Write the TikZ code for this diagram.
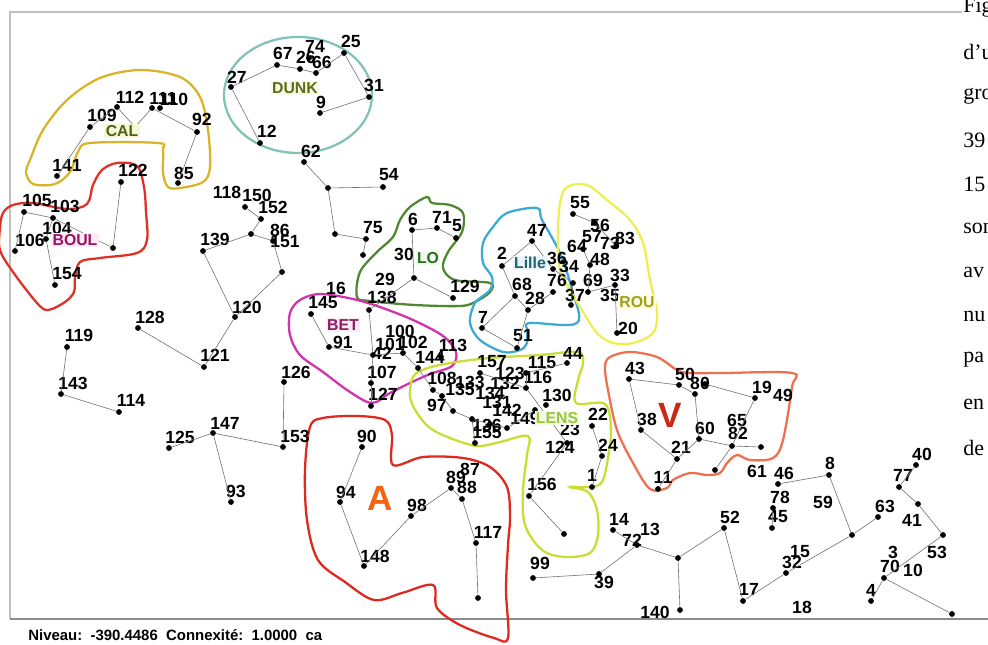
\documentclass[tikz,border=0pt]{standalone}
\usepackage{fontspec}
\setmainfont{Liberation Serif}
\setsansfont{Liberation Sans}
\usetikzlibrary{positioning}

\definecolor{calcol}{RGB}{218,180,40}
\definecolor{dunkcol}{RGB}{130,195,182}
\definecolor{boulcol}{RGB}{222,50,40}
\definecolor{locol}{RGB}{80,136,50}
\definecolor{lillecol}{RGB}{60,170,210}
\definecolor{betcol}{RGB}{210,50,170}
\definecolor{roucol}{RGB}{238,238,80}
\definecolor{lenscol}{RGB}{200,222,50}
\definecolor{acol}{RGB}{222,42,30}
\definecolor{vcol}{RGB}{238,112,80}

% a numbered site: dot and its number
\newcommand{\site}[5]{\node[spot] (s#1) at (#2,#3) {};\node[num] (n#1) at (#4,#5) {#1};}
% a number with no dot drawn
\newcommand{\lbl}[3]{\node[num] (n#1) at (#2,#3) {#1};}
% a dot with no number
\newcommand{\knot}[3]{\node[spot] (#1) at (#2,#3) {};}

\begin{document}
\begin{tikzpicture}[x=0.02cm, y=-0.02cm,
  spot/.style={circle, fill=black, inner sep=0pt, minimum size=3.3pt},
  num/.style={font=\sffamily\bfseries\fontsize{10}{10}\selectfont, inner sep=0pt},
  link/.style={draw=black!55, line width=0.35pt},
  zone/.style={line width=1.3pt, smooth cycle, tension=0.55},
  tag/.style={font=\sffamily\bfseries\fontsize{9}{9}\selectfont, inner sep=0.8pt}]

\useasboundingbox (0,0) rectangle (988,645);

% frame
\draw[black!25, line width=0.6pt] (10,619) -- (10,12) -- (962,12);
\draw[black!45, line width=0.6pt] (10,619) -- (988,619);

% zones
\draw[calcol, zone] plot coordinates {(30,160) (43,130) (67,100) (100,78) (140,70) (180,77) (200,97) (208,130) (210,167) (203,182) (180,188) (168,187) (163,173) (163,150) (158,143) (90,143) (78,152) (70,172) (55,184) (33,184) (26,172)};
\draw[dunkcol, line width=1.3pt] (298,95) ellipse [x radius=1.48cm, y radius=1.16cm];
\draw[boulcol, zone] plot coordinates {(3,213) (13,205) (33,203) (67,209) (87,204) (93,185) (102,170) (117,163) (137,166) (144,187) (146,212) (147,240) (137,253) (100,258) (80,262) (75,278) (74,292) (65,302) (48,310) (37,303) (13,272) (0,250) (0,228)};
\draw[locol, zone] plot coordinates {(357,297) (360,272) (377,252) (393,237) (400,220) (410,207) (427,197) (432,203) (450,205) (463,213) (462,232) (448,252) (443,268) (455,280) (490,283) (490,292) (475,302) (460,306) (415,305) (370,301)};
\draw[lillecol, zone] plot coordinates {(507,213) (537,208) (542,220) (560,253) (572,290) (577,323) (530,323) (527,330) (527,343) (520,350) (503,352) (480,340) (470,323) (475,303) (490,290) (492,277) (483,263) (483,243) (493,227)};
\draw[roucol, zone] plot coordinates {(567,187) (587,185) (607,200) (630,220) (643,243) (650,280) (657,313) (653,333) (633,343) (613,343) (597,333) (580,307) (570,290) (560,270) (558,237) (560,203)};
\draw[betcol, zone] plot coordinates {(290,313) (300,300) (320,294) (353,299) (380,307) (413,320) (443,336) (456,352) (452,366) (430,374) (410,383) (390,393) (372,403) (350,392) (323,372) (300,355) (290,335)};
\draw[acol, zone] plot coordinates {(310,427) (323,418) (357,416) (385,420) (392,435) (393,465) (423,457) (463,458) (490,467) (507,487) (510,517) (508,545) (506,590) (508,638) (494,638) (460,625) (437,608) (433,585) (402,593) (374,600) (345,582) (318,560) (307,520) (305,470)};
\draw[lenscol, zone] plot coordinates {(410,397) (413,377) (425,369) (450,363) (490,358) (540,355) (578,352) (583,363) (578,380) (576,403) (605,404) (611,430) (608,458) (602,482) (590,487) (570,487) (588,492) (597,510) (598,535) (590,553) (565,557) (542,550) (525,525) (523,490) (527,455) (528,436) (500,442) (477,446) (450,438) (430,428) (417,413)};
\draw[vcol, zone] plot coordinates {(605,367) (610,357) (630,352) (657,357) (677,370) (690,373) (723,373) (792,373) (792,387) (783,440) (773,458) (750,460) (737,455) (727,463) (720,473) (707,475) (690,473) (673,480) (667,488) (650,489) (633,463) (617,430) (608,390)};

% CAL
\site{112}{117}{107}{130}{97}
\site{111}{152}{108}{163}{98}
\site{110}{160}{108}{174}{99}
\knot{cal}{135}{127}
\site{109}{90}{127}{102}{115}
\site{92}{197}{132}{202}{119}
\site{141}{57}{176}{67}{165}
\site{85}{178}{183}{184}{173}
% DUNK
\site{27}{231}{87}{237}{77}
\site{67}{277}{65}{283}{53}
\site{26}{300}{69}{306}{57}
\site{74}{309}{58}{315}{46}
\site{66}{316}{73}{322}{62}
\site{25}{344}{53}{351}{41}
\site{31}{369}{97}{374}{85}
\site{9}{320}{113}{321}{102}
\site{12}{260}{143}{267}{131}
\site{62}{304}{162}{311}{151}
\knot{dj}{328}{188}
\site{54}{383}{187}{389}{175}
\knot{dk}{335}{234}
\site{75}{366}{239}{373}{228}
\knot{dl}{363}{255}
% BOUL
\site{105}{24}{212}{37}{200}
\site{103}{53}{218}{65}{206}
\site{104}{46}{239}{57}{228}
\site{106}{15}{251}{30}{240}
\knot{bj}{113}{248}
\site{154}{55}{285}{67}{274}
\site{122}{121}{182}{133}{170}
% west
\site{119}{67}{347}{79}{335}
\site{143}{61}{394}{73}{383}
\site{114}{119}{412}{131}{400}
\site{128}{138}{328}{150}{317}
\site{121}{204}{367}{215}{355}
\site{120}{235}{317}{247}{307}
\site{139}{203}{251}{215}{239}
\lbl{118}{227}{192}
\site{150}{245}{207}{257}{195}
\site{152}{261}{219}{273}{207}
\knot{tj}{251}{234}
\site{86}{273}{241}{280}{230}
\lbl{151}{285}{242}
\knot{tk}{282}{272}
\site{126}{284}{382}{296}{372}
\site{153}{283}{447}{295}{436}
\site{147}{213}{433}{225}{423}
\site{125}{169}{448}{180}{437}
\site{93}{231}{502}{236}{491}
% LO
\site{6}{412}{230}{413}{219}
\site{71}{437}{228}{442}{217}
\site{5}{456}{238}{457}{226}
\knot{lj}{414}{278}
\lbl{30}{404}{254}
\lbl{29}{385}{279}
\site{129}{453}{298}{465}{286}
\site{138}{369}{310}{382}{297}
\lbl{16}{336}{288}
% BET
\site{145}{311}{314}{323}{303}
\site{91}{329}{347}{343}{342}
\site{42}{373}{355}{382}{353}
\lbl{101}{390}{344}
\lbl{100}{400}{331}
\site{102}{403}{353}{413}{342}
\site{144}{418}{368}{430}{357}
\site{113}{441}{357}{453}{345}
\site{107}{371}{383}{382}{372}
\site{127}{371}{406}{383}{394}
% Lille
\site{47}{532}{241}{537}{230}
\site{2}{502}{266}{502}{253}
\site{68}{515}{296}{522}{284}
\site{28}{528}{310}{535}{298}
\site{76}{553}{292}{557}{280}
\site{7}{482}{328}{483}{317}
\site{51}{517}{348}{523}{336}
\site{36}{553}{269}{557}{258}
\lbl{34}{569}{266}
\site{37}{571}{305}{575}{295}
\knot{rj}{573}{283}
% ROU
\site{55}{573}{214}{580}{203}
\site{56}{595}{223}{600}{225}
\site{57}{583}{249}{592}{237}
\lbl{73}{610}{243}
\site{83}{616}{246}{625}{238}
\lbl{64}{577}{246}
\site{48}{590}{265}{600}{259}
\site{69}{588}{292}{593}{280}
\site{33}{615}{285}{620}{275}
\lbl{35}{610}{295}
\site{20}{617}{333}{628}{328}
% LENS
\site{157}{480}{373}{492}{362}
\site{115}{526}{373}{542}{363}
\site{44}{567}{363}{573}{353}
\lbl{123}{510}{373}
\site{116}{526}{388}{538}{377}
\site{130}{546}{405}{557}{395}
\site{108}{433}{390}{442}{378}
\lbl{133}{470}{382}
\lbl{132}{505}{383}
\site{135}{442}{396}{460}{389}
\lbl{134}{490}{393}
\lbl{131}{497}{402}
\site{97}{453}{411}{437}{405}
\site{142}{490}{424}{507}{410}
\site{149}{507}{428}{525}{418}
\site{136}{472}{419}{487}{425}
\site{155}{475}{443}{487}{433}
\knot{lk}{535}{410}
\site{22}{592}{426}{598}{414}
\lbl{23}{570}{429}
\site{124}{567}{443}{560}{447}
\site{24}{602}{456}{608}{445}
\site{1}{592}{487}{592}{475}
\site{156}{529}{496}{542}{484}
\knot{lm}{564}{534}
% A
\site{90}{362}{447}{367}{436}
\site{94}{340}{502}{346}{492}
\site{148}{364}{566}{375}{556}
\site{98}{411}{516}{417}{505}
\site{89}{451}{488}{456}{477}
\lbl{87}{470}{469}
\site{88}{462}{499}{467}{487}
\site{117}{476}{543}{488}{532}
\knot{ab}{478}{598}
% V
\site{43}{629}{379}{635}{368}
\site{50}{679}{385}{685}{374}
\site{80}{695}{394}{700}{383}
\knot{vj}{705}{384}
\site{19}{755}{398}{762}{387}
\lbl{49}{783}{395}
\site{38}{641}{430}{647}{419}
\site{60}{699}{439}{705}{428}
\lbl{65}{737}{420}
\site{82}{732}{446}{738}{433}
\knot{vk}{761}{447}
\site{21}{677}{459}{681}{447}
\site{11}{658}{489}{663}{477}
\knot{vl}{715}{470}
% south-east
\lbl{61}{757}{471}
\site{46}{778}{484}{784}{473}
\site{8}{829}{475}{830}{463}
\site{78}{773}{508}{780}{497}
\site{45}{772}{528}{778}{517}
\lbl{59}{823}{502}
\knot{fj}{852}{535}
\site{63}{878}{517}{885}{506}
\site{40}{916}{465}{922}{454}
\site{77}{899}{487}{903}{475}
\knot{fk}{918}{504}
\lbl{41}{912}{520}
\site{53}{943}{535}{937}{552}
\lbl{3}{893}{552}
\site{70}{884}{578}{890}{566}
\lbl{10}{913}{570}
\site{4}{871}{601}{871}{590}
\knot{fl}{952}{614}
\site{52}{724}{528}{730}{517}
\site{17}{743}{601}{749}{589}
\site{32}{786}{573}{792}{562}
\lbl{15}{800}{552}
\lbl{18}{802}{607}
\site{14}{613}{530}{619}{519}
\lbl{13}{650}{529}
\site{72}{637}{545}{632}{540}
\knot{mj}{678}{558}
\site{140}{680}{610}{655}{612}
\site{99}{533}{578}{540}{563}
\site{39}{599}{574}{604}{582}

% links of the tree
\foreach \a/\b in {s109/s141, s109/s112, s112/cal, cal/s111, s111/s92, s92/s85,
  s27/s67, s67/s26, s26/s66, s66/s25, s25/s31, s31/s9, s27/s12,
  s62/dj, dj/s54, dj/dk, dk/s75, s75/dl,
  s105/s103, s103/bj, s122/bj, s105/s106, s104/s154, s103/s104,
  s150/s152, s152/tj, tj/s139, tj/s86, s86/tk, tk/s120, s139/s120, s120/s121, s128/s121,
  s119/s143, s143/s114, s126/s153, s153/s147, s147/s125, s147/s93,
  s6/s71, s71/s5, s6/lj, lj/s129, lj/s138,
  s145/s91, s91/s42, s138/s42, s42/s107, s107/s127, s42/s102, s102/s144, s144/s108,
  s2/s47, s47/s36, s2/s68, s68/s28, s28/s76, s68/s7, s7/s51, s28/s51, s36/rj, rj/s37,
  s55/s56, s56/s83, s57/s48, s48/s69, s69/s33, s33/s20,
  s108/s135, s135/s97, s97/s136, s136/s155, s136/s142, s142/s149, s149/lk, s157/s116, s116/s115, s115/s44,
  s116/s124, s22/s24, s24/s1, s124/s156, s156/lm,
  s90/s94, s94/s148, s148/s98, s98/s89, s89/s88, s88/s117, s117/ab,
  s43/s50, s50/s80, vj/s19, s80/s60, s43/s38, s38/s21, s21/s11, s21/s60, s60/s82, s82/vk, s82/vl, s19/s82,
  s46/s8, s8/fj, fj/s63, fj/s32, s32/s17, s17/s52, s40/s77, s77/fk, fk/s53, s53/s70, s70/s4, s70/fl,
  s78/s45, s14/s72, s72/mj, mj/s52, mj/s140, s99/s39, s39/s72}
  \draw[link] (\a) -- (\b);

% zone names
\node[tag, text={rgb,255:red,80;green,95;blue,20}, fill={rgb,255:red,245;green,248;blue,215}] (tcal) at (122,131) {CAL};
\node[tag, text={rgb,255:red,90;green,112;blue,20}, fill={rgb,255:red,248;green,250;blue,235}] (tdunk) at (295,88) {DUNK};
\node[tag, text={rgb,255:red,150;green,20;blue,100}, fill={rgb,255:red,250;green,235;blue,245}] (tboul) at (75,240) {BOUL};
\node[tag, text={rgb,255:red,40;green,110;blue,30}, fill={rgb,255:red,240;green,248;blue,235}] (tlo) at (428,258) {LO};
\node[tag, text={rgb,255:red,30;green,100;blue,110}, fill={rgb,255:red,235;green,245;blue,248}] (tlille) at (530,263) {Lille};
\node[tag, text={rgb,255:red,140;green,30;blue,100}, fill={rgb,255:red,250;green,235;blue,245}] (tbet) at (343,325) {BET};
\node[tag, text={rgb,255:red,160;green,160;blue,20}, fill={rgb,255:red,252;green,252;blue,230}] (trou) at (637,302) {ROU};
\node[tag, text={rgb,255:red,150;green,200;blue,60}, fill={rgb,255:red,245;green,250;blue,230}] (tlens) at (557,418) {LENS};
\node[font=\sffamily\bfseries\fontsize{20}{20}\selectfont, text={rgb,255:red,240;green,100;blue,20}, inner sep=0pt] (ta) at (380,498) {A};
\node[font=\sffamily\bfseries\fontsize{20}{20}\selectfont, text={rgb,255:red,200;green,40;blue,20}, inner sep=0pt] (tv) at (670,415) {V};

% level line
\node[font=\sffamily\bfseries\fontsize{8.5}{8.5}\selectfont, anchor=west, inner sep=0pt] (level) at (28,635) {Niveau:~~-390.4486~~Connexité:~~1.0000~~ca};

% caption cut at the right edge
\foreach \t [count=\i from 0] in {Fig, d’u, gro, 39, 15, son, av, nu, pa, en, de}
  \node[font=\fontsize{12.5}{12.5}\selectfont, anchor=west, inner sep=0pt] (cap\i) at (963,8+44*\i) {\t};

\end{tikzpicture}
\end{document}
